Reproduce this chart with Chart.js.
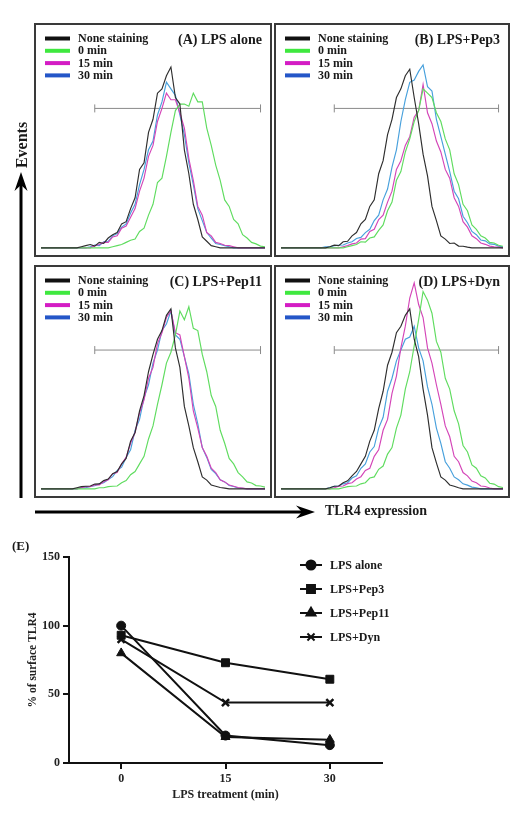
<!DOCTYPE html>
<html>
<head>
<meta charset="utf-8">
<script src="https://cdn.jsdelivr.net/npm/chart.js@4.4.1/dist/chart.umd.min.js"></script>
<style>
  html, body { margin: 0; padding: 0; background: #fff; }
  body { width: 522px; height: 815px; position: relative; overflow: hidden; font-family: "Liberation Serif", serif; }
  .panel { position: absolute; box-sizing: border-box; border: 2px solid #3a3a3a; background: #fff; }
  .panel canvas { display: block; }
  .lbl { position: absolute; font-weight: bold; color: #1a1a1a; white-space: nowrap; }
  #events { left: 22px; top: 145px; font-size: 16px; line-height: 18px; transform: translate(-50%, -50%) rotate(-90deg); }
  #tlr4 { left: 325px; top: 503px; font-size: 14px; line-height: 16px; }
  #elabel { left: 12px; top: 538px; font-size: 13px; line-height: 16px; }
  #arrows { position: absolute; left: 0; top: 0; pointer-events: none; }
  #chartE { position: absolute; left: 0; top: 530px; }
</style>
</head>
<body>
<div class="panel" style="left:34px;top:23px;width:238px;height:234px;"><canvas id="pA" width="234" height="230"></canvas></div>
<div class="panel" style="left:274px;top:23px;width:236px;height:234px;"><canvas id="pB" width="232" height="230"></canvas></div>
<div class="panel" style="left:34px;top:265px;width:238px;height:233px;"><canvas id="pC" width="234" height="229"></canvas></div>
<div class="panel" style="left:274px;top:265px;width:236px;height:233px;"><canvas id="pD" width="232" height="229"></canvas></div>

<svg id="arrows" width="522" height="815">
  <line x1="21" y1="498" x2="21" y2="182" stroke="#000" stroke-width="3"/>
  <polygon points="21,172 14.5,191 21,185 27.5,191" fill="#000"/>
  <line x1="35" y1="512" x2="303" y2="512" stroke="#000" stroke-width="3"/>
  <polygon points="315,512 296,505.5 302,512 296,518.5" fill="#000"/>
</svg>
<div class="lbl" id="events">Events</div>
<div class="lbl" id="tlr4">TLR4 expression</div>
<div class="lbl" id="elabel">(E)</div>

<canvas id="chartE" width="522" height="285"></canvas>

<script>
// ---------------- DATA ----------------
// Histogram channel grid (relative fluorescence, 0-100)
const channels = [0,2,4,6,8,10,12,14,16,18,20,22,24,26,28,30,32,34,36,38,40,42,44,46,48,50,52,54,56,58,60,62,64,66,68,70,72,74,76,78,80,82,84,86,88,90,92,94,96,98,100];
const seriesLabels = ['None staining', '0 min', '15 min', '30 min'];
const panelTitles = ['(A) LPS alone', '(B) LPS+Pep3', '(C) LPS+Pep11', '(D) LPS+Dyn'];
const gateRange = [24, 98];
const gateLevel = 64;

// (A) LPS alone
const aNone = [0,0,0,0,0,0,0,0,0,0.5, 1,1.5,0.8,2.5,2,4.5,6,7,11,12, 18,23,36,39,53,59,71,73,79,83, 69,66,45,34,20,13,5,3,1,0.5, 0,0,0,0,0,0,0,0,0,0,0];
const a0   = [0,0,0,0,0,0,0,0,0,0, 0,0,0,0,0,0,0.5,1,1.5,2.5, 3.5,4,7.5,9,15,20,30,32,42,53, 63,66,66,65,71,67,67,55,47,38, 31,22,19,13,11,6,4.5,2.5,1.8,0.8,0.5];
const a15  = [0,0,0,0,0,0,0,0,0,0, 0,0,1,1.5,2.5,2.5,5,5.5,9,10, 14,18,26,32,42,47,58,64,71,68, 68,62,55,41,31,19,15,7,5.5,2.5, 2,1.2,1,0.5,0,0,0,0,0,0,0];
const a30  = [0,0,0,0,0,0,0,0,0,0, 0,0.5,1.2,1,2.8,3,5.5,6.5,9.5,11, 16,20,29,36,45,49,61,67,76,73, 70,61,52,39,29,18,12.5,7,4.5,2, 1.5,1,0.5,0,0,0,0,0,0,0,0];
// (B) LPS+Pep3
const bNone = [0,0,0,0,0,0,0,0,0,0, 0,0.5,1.2,1,2.8,3,5.5,7,11,13, 19,22,34,40,52,59,69,73,79,82, 69,57,43,33,19,12.5,5.5,4,2,2.2, 0.8,0.7,0.3,0,0,0,0,0,0,0,0];
const b0   = [0,0,0,0,0,0,0,0,0,0, 0,0,0,0,0,0.5,1,1.5,2.8,2.6, 4.5,5,8,10.5,17,21,31,35,44,50, 58,63,73,71,69,62,58,50,45,34, 29,20,17,10.5,8.5,5.5,4.5,2.5,2.2,1.2,0.7];
const b15  = [0,0,0,0,0,0,0,0,0,0, 0,0,0,0,0.5,1,1.8,2.2,4,4.2, 7.5,8.5,13,15,21,26,36,40,47,51, 60,63,75,62,57,49,44,36,32,23, 19,12,9.5,5.5,4.2,2.2,1.6,0.8,0.5,0.3,0];
const b30  = [0,0,0,0,0,0,0,0,0,0, 0.5,0.5,1,1.2,1.3,2.2,2.8,4.3,4.8,7, 8.5,12.5,15,22,27,37,45,58,68,76, 77,81,84,74,72,59,51,43,35,26, 22.5,14.5,11.5,7.5,6,3.6,3.2,1.8,1.6,0.8,0.5];
// (C) LPS+Pep11
const cNone = [0,0,0,0,0,0,0,0,0.5,1, 1.2,1.3,2.2,2.3,3.8,4.5,7,8,11.5,14, 22,26,36,43,54,62,69,73,80,83, 65,56,38,29,19,12.5,5.5,4,1.8,1.2, 0.6,0.3,0,0,0,0,0,0,0,0,0];
const c0   = [0,0,0,0,0,0,0,0,0,0, 0,0,0,0.5,0.5,1,1.2,1.3,2.8,3.8, 6.5,8,11.5,15,23,29,39,48,58,63, 71,82,78,84,74,73,62,54,43,38, 27,21,14,11.5,7.5,5.5,3.2,2.7,1.5,1.3,0.8];
const c15  = [0,0,0,0,0,0,0,0,0,0.5, 1,1,1.8,1.8,3.3,4.2,7,7.5,11.5,14.5, 21,26,35,41,51,56,67,72,79,82, 72,71,61,51,36,28,19,15,9.5,7.5, 4.2,3.2,1.8,1.2,0.6,0.3,0,0,0,0,0];
const c30  = [0,0,0,0,0,0,0,0,0,0.5, 0.5,1.1,1.4,2.2,2.8,4.3,5.6,8.5,10,14.5, 18,27,32,42,48,58,64,73,76,82, 71,69,61,53,39,30,19,14.5,9,7, 4.2,3.2,1.6,1.1,0.4,0.2,0,0,0,0,0];
// (D) LPS+Dyn
const dNone = [0,0,0,0,0,0,0,0,0,0, 0,0.5,1.2,1.3,2.8,3.7,6,8,11.5,15, 22,27,37,45,57,63,72,75,80,83, 69,61,46,34,19,12,5.5,4,1.8,1.2, 0.5,0,0,0,0,0,0,0,0,0,0];
const d0   = [0,0,0,0,0,0,0,0,0,0, 0,0,0,0,0.5,1,1.2,1.3,2.3,2.8, 5,5.5,9,10.5,16,19,28,34,46,54, 66,78,91,87,81,68,63,51,46,36, 30,20,17,11,9.5,6,5,2.6,2.2,1,0.6];
const d15  = [0,0,0,0,0,0,0,0,0,0, 0,0,0.5,1.2,1.3,2.4,2.8,4.5,5.6,8.5, 9.5,15,18,27,32,44,52,65,75,88, 95,85,79,65,58,48,39,29,24,15, 12.5,7.5,6,3.6,2.8,1.3,1.1,0.4,0,0,0];
const d30  = [0,0,0,0,0,0,0,0,0,0, 0,0.5,1.2,1.3,2.3,2.8,5,6,9.5,11.5, 17,19.5,28,33,45,51,59,64,69,70, 75,65,59,47,39,28,21,12.5,9.5,5.5, 4.2,2.3,1.7,0.8,0.5,0,0,0,0,0,0];

// (E) % of surface TLR4
const timeLabels = ['0', '15', '30'];
const yTicksE = [0, 50, 100, 150];
const eSeriesLabels = ['LPS alone', 'LPS+Pep3', 'LPS+Pep11', 'LPS+Dyn'];
const lpsAlone = [100, 20, 13];
const lpsPep3  = [93, 73, 61];
const lpsPep11 = [80, 19, 17];
const lpsDyn   = [90, 44, 44];

// ---------------- STYLE ----------------
const FONT = '"Liberation Serif", "Times New Roman", serif';
const traceColors  = ['#2e2e2e', '#5fdc5f', '#d445b8', '#47a0dc'];
const legendColors = ['#111111', '#3fe83f', '#d41cc4', '#2456c8'];
const drawOrder = [0, 1, 2, 3];

const panelDecor = {
  id: 'panelDecor',
  afterDatasetsDraw(chart, args, opts) {
    const ctx = chart.ctx, a = chart.chartArea;
    ctx.save();
    ctx.textBaseline = 'middle';
    ctx.font = 'bold 12px ' + FONT;
    let i = 0;
    chart.data.datasets.forEach(ds => {
      if (!ds.legendColor) return;
      const y = a.top + 8.5 + i * 12.3;
      ctx.strokeStyle = ds.legendColor;
      ctx.lineWidth = 4;
      ctx.beginPath();
      ctx.moveTo(a.left + 4, y);
      ctx.lineTo(a.left + 29, y);
      ctx.stroke();
      ctx.fillStyle = '#1a1a1a';
      ctx.textAlign = 'left';
      ctx.fillText(ds.label, a.left + 37, y + 0.5);
      i++;
    });
    ctx.font = 'bold 14px ' + FONT;
    ctx.textAlign = 'right';
    ctx.fillStyle = '#1a1a1a';
    ctx.fillText(opts.title, a.right - 3, a.top + 10);
    ctx.restore();
  }
};

function makePanel(id, title, series) {
  const datasets = series.map((vals, k) => ({
    label: seriesLabels[k],
    data: channels.map((c, j) => ({ x: c, y: vals[j] })),
    borderColor: traceColors[k],
    legendColor: legendColors[k],
    borderWidth: 1.15,
    pointRadius: 0,
    tension: 0,
    order: drawOrder[k]
  }));
  datasets.push({
    label: 'gate',
    data: gateRange.map(x => ({ x: x, y: gateLevel })),
    borderColor: '#8a8a8a',
    backgroundColor: '#8a8a8a',
    borderWidth: 1,
    pointStyle: 'line',
    rotation: 90,
    pointRadius: 4,
    pointBorderWidth: 1,
    pointBorderColor: '#8a8a8a',
    order: 10
  });
  new Chart(document.getElementById(id), {
    type: 'line',
    data: { datasets },
    options: {
      responsive: false, animation: false, devicePixelRatio: 1,
      layout: { padding: 0 },
      plugins: { legend: { display: false }, tooltip: { enabled: false }, panelDecor: { title } },
      scales: {
        x: { type: 'linear', min: 0, max: 100, display: false },
        y: { type: 'linear', min: -1, max: 100, display: false }
      }
    },
    plugins: [panelDecor]
  });
}

makePanel('pA', panelTitles[0], [aNone, a0, a15, a30]);
makePanel('pB', panelTitles[1], [bNone, b0, b15, b30]);
makePanel('pC', panelTitles[2], [cNone, c0, c15, c30]);
makePanel('pD', panelTitles[3], [dNone, d0, d15, d30]);

// ---------------- PANEL E ----------------
const eLegend = {
  id: 'eLegend',
  afterDatasetsDraw(chart) {
    const ctx = chart.ctx;
    ctx.save();
    ctx.font = 'bold 12px ' + FONT;
    ctx.textBaseline = 'middle';
    ctx.textAlign = 'left';
    chart.data.datasets.forEach((ds, i) => {
      const y = 35 + i * 24;
      ctx.strokeStyle = '#111'; ctx.fillStyle = '#111'; ctx.lineWidth = 2;
      ctx.beginPath(); ctx.moveTo(300, y); ctx.lineTo(322, y); ctx.stroke();
      Chart.helpers.drawPoint(ctx, { pointStyle: ds.pointStyle, radius: ds.pointRadius, rotation: 0, borderWidth: ds.pointBorderWidth || 1 }, 311, y);
      ctx.fillStyle = '#1a1a1a';
      ctx.fillText(ds.label, 330, y + 0.5);
    });
    ctx.restore();
  }
};

const eStyles = [
  { pointStyle: 'circle', pointRadius: 4.5 },
  { pointStyle: 'rect', pointRadius: 5.6 },
  { pointStyle: 'triangle', pointRadius: 5.2 },
  { pointStyle: 'crossRot', pointRadius: 5, pointBorderWidth: 2.5 }
];
const eSeries = [lpsAlone, lpsPep3, lpsPep11, lpsDyn];
const tickFont = { family: FONT, weight: 'bold', size: 12 };

new Chart(document.getElementById('chartE'), {
  type: 'line',
  data: {
    labels: timeLabels,
    datasets: eSeries.map((vals, i) => Object.assign({
      label: eSeriesLabels[i],
      data: vals,
      borderColor: '#111',
      backgroundColor: '#111',
      pointBackgroundColor: '#111',
      pointBorderColor: '#111',
      borderWidth: 2,
      pointBorderWidth: 1,
      tension: 0
    }, eStyles[i]))
  },
  options: {
    responsive: false, animation: false, devicePixelRatio: 1,
    layout: { padding: { top: 27, right: 140, left: 0, bottom: 0 } },
    plugins: { legend: { display: false }, tooltip: { enabled: false } },
    scales: {
      x: {
        type: 'category', offset: true,
        grid: { display: true, drawOnChartArea: false, drawTicks: true, tickLength: 6, color: '#111', lineWidth: 2, offset: false },
        border: { display: true, color: '#111', width: 2 },
        ticks: { font: tickFont, color: '#222', padding: 3 },
        title: { display: true, text: 'LPS treatment (min)', font: tickFont, color: '#222', padding: { top: 0, bottom: 13 } },
        afterFit(s) { s.height = 52; }
      },
      y: {
        type: 'linear', min: 0, max: 150,
        afterBuildTicks(s) { s.ticks = yTicksE.map(v => ({ value: v })); },
        grid: { display: true, drawOnChartArea: false, drawTicks: true, tickLength: 6, color: '#111', lineWidth: 2 },
        border: { display: true, color: '#111', width: 2 },
        ticks: { font: tickFont, color: '#222', padding: 3 },
        title: { display: true, text: '% of surface TLR4', font: { family: FONT, weight: 'bold', size: 11.5 }, color: '#222', padding: { top: 26, bottom: 0 } },
        afterFit(s) { s.width = 69; }
      }
    }
  },
  plugins: [eLegend]
});
</script>
</body>
</html>
